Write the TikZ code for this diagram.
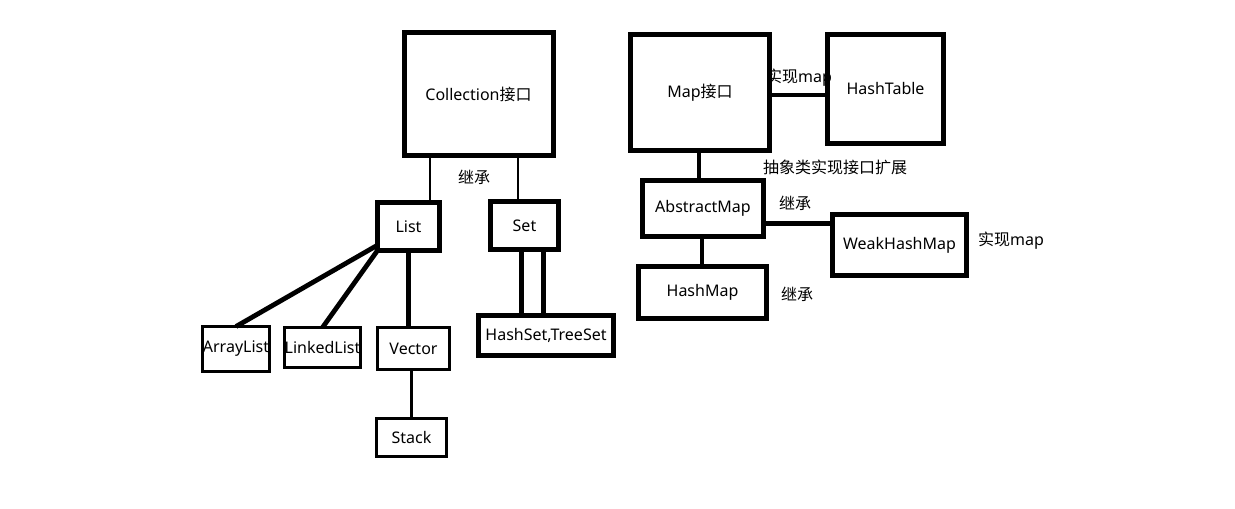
\documentclass[tikz,border=0pt]{standalone}
\usepackage{fontspec}
\setmainfont{Noto Sans}
\newfontfamily\cjk{Noto Sans CJK SC}

\begin{document}
\begin{tikzpicture}[x=0.75pt,y=-0.75pt,
  every node/.style={font=\fontsize{12}{14}\selectfont},
  bigbox/.style={draw,line width=3.75pt,outer sep=0pt,inner sep=0pt},
  smallbox/.style={draw,line width=2.25pt,outer sep=0pt,inner sep=0pt},
  link/.style={line width=1.6pt},
  thicklink/.style={line width=3.6pt},
  note/.style={inner sep=0pt}]

\useasboundingbox (0,0) rectangle (1235,509);

% Collection side
\node[bigbox,minimum width=111.75pt,minimum height=92.25pt]   (coll)  at (478.5,94.5)   {Collection{\cjk 接口}};
\node[bigbox,minimum width=46.5pt,minimum height=36pt]        (list)  at (408.5,226.5)  {List};
\node[bigbox,minimum width=51pt,minimum height=36pt]          (set)   at (524.5,225.5)  {Set};
\node[smallbox,minimum width=50.25pt,minimum height=33.75pt]  (alist) at (236,349)      {ArrayList};
\node[smallbox,minimum width=51pt,minimum height=30pt]        (llist) at (322.5,347.5)  {LinkedList};
\node[smallbox,minimum width=54pt,minimum height=31.5pt]      (vec)   at (413.5,348.5)  {Vector};
\node[smallbox,minimum width=52.5pt,minimum height=28.5pt]    (stack) at (411.5,437.5)  {Stack};
\node[bigbox,minimum width=101.25pt,minimum height=30pt]      (hset)  at (546,335.5)    {HashSet,TreeSet};

% Map side
\node[bigbox,minimum width=104.25pt,minimum height=87pt]      (map)   at (700,92.5)     {Map{\cjk 接口}};
\node[bigbox,minimum width=87pt,minimum height=81.75pt]       (htab)  at (885.5,89)     {HashTable};
\node[bigbox,minimum width=90.75pt,minimum height=42pt]       (amap)  at (703,208.5)    {AbstractMap};
\node[bigbox,minimum width=100.5pt,minimum height=45.75pt]    (whmap) at (899.5,245)    {WeakHashMap};
\node[bigbox,minimum width=96pt,minimum height=39pt]          (hmap)  at (702.5,292.5)  {HashMap};

	\draw[link] ([xshift=16pt]list.north) -- ([xshift=16pt]list.north |- coll.south);
	\draw[link] ([xshift=-5pt]set.north) -- ([xshift=-5pt]set.north |- coll.south);
	\draw[thicklink] ([yshift=4pt]list.south west) -- (alist.north);
	\draw[thicklink] (list.south west) -- (llist.north);
	\draw[thicklink] (list.south) -- (list.south |- vec.north);
	\draw[link] (stack.north) -- (stack.north |- vec.south);
	\draw[thicklink] ([xshift=-2pt]set.south) -- ([xshift=-2pt]set.south |- hset.north);
	\draw[thicklink] ([xshift=14.5pt]set.south) -- ([xshift=14.5pt]set.south |- hset.north);

	\draw[thicklink] ([yshift=-4.5pt]htab.west) -- ([yshift=-4.5pt]htab.west -| map.east);
	\draw[thicklink] ([xshift=-0.75pt]map.south) -- ([xshift=-0.75pt]map.south |- amap.north);
	\draw[thicklink] ([yshift=-11pt]amap.east) -- ([yshift=-11pt]amap.east -| whmap.west);
	\draw[thicklink] ([xshift=-0.75pt]amap.south) -- ([xshift=-0.75pt]amap.south |- hmap.north);

% labels
\node[note] (l1) at (474,177)  {\cjk 继承};
\node[note] (l2) at (799,78)   {{\cjk 实现}map};
\node[note] (l3) at (835,167)  {\cjk 抽象类实现接口扩展};
\node[note] (l4) at (795,203)  {\cjk 继承};
\node[note] (l5) at (1011,241) {{\cjk 实现}map};
\node[note] (l6) at (797,294)  {\cjk 继承};

\end{tikzpicture}
\end{document}
